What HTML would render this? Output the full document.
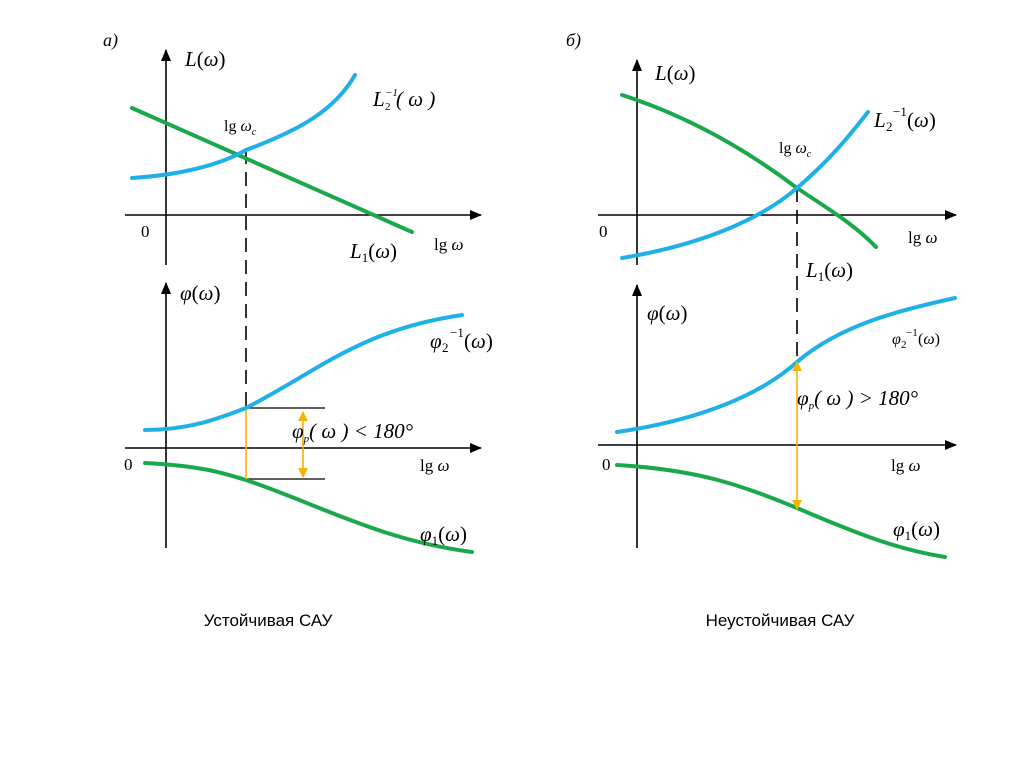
<!DOCTYPE html>
<html><head><meta charset="utf-8"><style>
html,body{margin:0;padding:0;background:#fff;}
svg{display:block;}
text{font-family:"Liberation Serif",serif;fill:#000;}
.i{font-style:italic;}
.cap{font-family:"Liberation Sans",sans-serif;font-size:17px;}
</style></head><body>
<svg width="1024" height="767" viewBox="0 0 1024 767" xmlns="http://www.w3.org/2000/svg">
<defs>
<marker id="ah" markerWidth="12" markerHeight="10" refX="11" refY="5" orient="auto" markerUnits="userSpaceOnUse"><path d="M0,0 L12,5 L0,10 Z" fill="#000"/></marker>
<marker id="ya" markerWidth="10" markerHeight="10" refX="9" refY="5" orient="auto" markerUnits="userSpaceOnUse"><path d="M0,0 L10,5 L0,10 Z" fill="#f5b400"/></marker>
</defs>
<g stroke="#000" stroke-width="1.6" fill="none">
<line x1="166" y1="265" x2="166" y2="50" marker-end="url(#ah)"/>
<line x1="125" y1="215" x2="481" y2="215" marker-end="url(#ah)"/>
<line x1="166" y1="548" x2="166" y2="283" marker-end="url(#ah)"/>
<line x1="125" y1="448" x2="481" y2="448" marker-end="url(#ah)"/>
<line x1="637" y1="265" x2="637" y2="60" marker-end="url(#ah)"/>
<line x1="598" y1="215" x2="956" y2="215" marker-end="url(#ah)"/>
<line x1="637" y1="548" x2="637" y2="285" marker-end="url(#ah)"/>
<line x1="598" y1="445" x2="956" y2="445" marker-end="url(#ah)"/>
<line x1="246" y1="150" x2="246" y2="408" stroke-dasharray="14,8"/>
<line x1="797" y1="188" x2="797" y2="362" stroke-dasharray="14,8"/>
<line x1="246" y1="408" x2="325" y2="408" stroke-width="1.2"/>
<line x1="246" y1="479" x2="325" y2="479" stroke-width="1.2"/>
</g>
<g fill="none" stroke-width="4" stroke-linecap="round">
<path d="M132,108 L412,232" stroke="#1aa84a"/>
<path d="M132,178 C180,175 220,165 246,150 C300,130 335,110 355,75" stroke="#1fb0e8"/>
<path d="M145,430 C190,430 220,418 246,408 C320,370 360,330 462,315" stroke="#1fb0e8"/>
<path d="M145,463 C200,466 220,472 246,480 C320,505 380,540 472,552" stroke="#1aa84a"/>
<path d="M622,95 C700,120 760,160 797,188 C830,210 855,225 876,247" stroke="#1aa84a"/>
<path d="M622,258 C700,245 760,220 797,188 C830,160 850,135 868,112" stroke="#1fb0e8"/>
<path d="M617,432 C700,420 760,395 797,362 C840,325 900,310 955,298" stroke="#1fb0e8"/>
<path d="M617,465 C700,470 740,485 797,508 C860,535 900,550 945,557" stroke="#1aa84a"/>
</g>
<g stroke="#f5b400" stroke-width="1.6" fill="none">
<line x1="246" y1="410" x2="246" y2="479"/>
<line x1="303" y1="444" x2="303" y2="412" marker-end="url(#ya)"/>
<line x1="303" y1="444" x2="303" y2="477" marker-end="url(#ya)"/>
<line x1="797" y1="435" x2="797" y2="362" marker-end="url(#ya)"/>
<line x1="797" y1="435" x2="797" y2="509" marker-end="url(#ya)"/>
</g>
<g font-size="21">
<text x="103" y="46" class="i" font-size="18">а)</text>
<text x="185" y="66"><tspan class="i">L</tspan>(<tspan class="i">ω</tspan>)</text>
<text x="373" y="106" class="i">L</text>
<text x="385" y="96" class="i" font-size="11">−1</text>
<text x="385" y="110" font-size="11">2</text>
<text x="396" y="106" class="i">( ω )</text>
<text x="224" y="131" font-size="16">lg <tspan class="i">ω</tspan><tspan font-size="10" dy="4" class="i">c</tspan></text>
<text x="141" y="237" font-size="17">0</text>
<text x="350" y="258"><tspan class="i">L</tspan><tspan font-size="13" dy="4">1</tspan><tspan dy="-4">(</tspan><tspan class="i">ω</tspan>)</text>
<text x="434" y="250" font-size="17">lg <tspan class="i">ω</tspan></text>
<text x="180" y="300"><tspan class="i">φ</tspan>(<tspan class="i">ω</tspan>)</text>
<text x="430" y="348" class="i">φ</text>
<text x="442" y="352" font-size="13">2</text>
<text x="450" y="337" font-size="13">−1</text>
<text x="464" y="348">(<tspan class="i">ω</tspan>)</text>
<text x="292" y="438" class="i" font-size="21">φ<tspan font-size="11" dy="4">p</tspan><tspan dy="-4">( ω ) &lt; 180°</tspan></text>
<text x="124" y="470" font-size="17">0</text>
<text x="420" y="471" font-size="17">lg <tspan class="i">ω</tspan></text>
<text x="420" y="541"><tspan class="i">φ</tspan><tspan font-size="13" dy="4">1</tspan><tspan dy="-4">(</tspan><tspan class="i">ω</tspan>)</text>

<text x="566" y="46" class="i" font-size="18">б)</text>
<text x="655" y="80"><tspan class="i">L</tspan>(<tspan class="i">ω</tspan>)</text>
<text x="874" y="127" class="i">L</text>
<text x="886" y="131" font-size="13">2</text>
<text x="893" y="116" font-size="13">−1</text>
<text x="907" y="127">(<tspan class="i">ω</tspan>)</text>
<text x="779" y="153" font-size="16">lg <tspan class="i">ω</tspan><tspan font-size="10" dy="4" class="i">c</tspan></text>
<text x="599" y="237" font-size="17">0</text>
<text x="908" y="243" font-size="17">lg <tspan class="i">ω</tspan></text>
<text x="806" y="277"><tspan class="i">L</tspan><tspan font-size="13" dy="4">1</tspan><tspan dy="-4">(</tspan><tspan class="i">ω</tspan>)</text>
<text x="647" y="320"><tspan class="i">φ</tspan>(<tspan class="i">ω</tspan>)</text>
<text x="892" y="344" class="i" font-size="16">φ</text>
<text x="901" y="348" font-size="11">2</text>
<text x="906" y="336" font-size="11">−1</text>
<text x="918" y="344" font-size="16">(<tspan class="i">ω</tspan>)</text>
<text x="797" y="405" class="i" font-size="21">φ<tspan font-size="11" dy="4">p</tspan><tspan dy="-4">( ω ) &gt; 180°</tspan></text>
<text x="602" y="470" font-size="17">0</text>
<text x="891" y="471" font-size="17">lg <tspan class="i">ω</tspan></text>
<text x="893" y="536"><tspan class="i">φ</tspan><tspan font-size="13" dy="4">1</tspan><tspan dy="-4">(</tspan><tspan class="i">ω</tspan>)</text>
</g>
<text x="268" y="626" text-anchor="middle" class="cap">Устойчивая САУ</text>
<text x="780" y="626" text-anchor="middle" class="cap">Неустойчивая САУ</text>
</svg>
</body></html>
